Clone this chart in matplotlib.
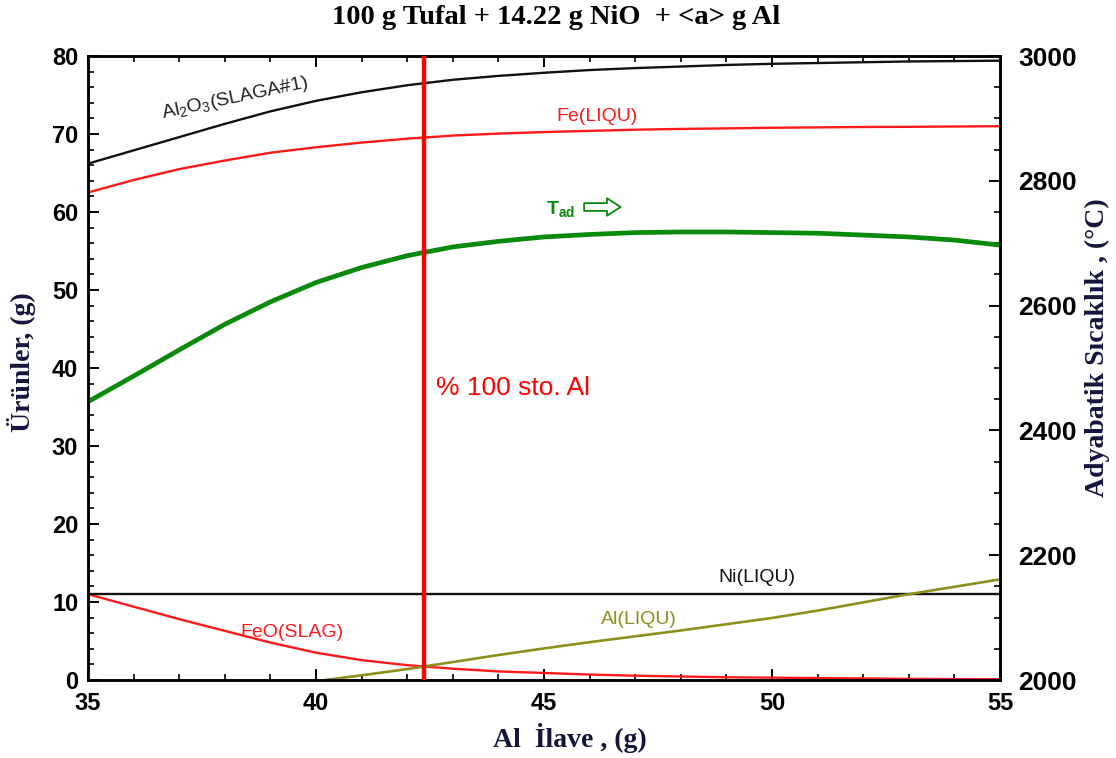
import matplotlib

matplotlib.use("Agg")

import matplotlib.pyplot as plt
from matplotlib.ticker import MultipleLocator

# Al addition (g) on the x axis
al_added = [35, 36, 37, 38, 39, 40, 41, 42, 43, 44, 45,
            46, 47, 48, 49, 50, 51, 52, 53, 54, 55]

# products (g), left axis
al2o3_slag = [66.2, 67.9, 69.6, 71.3, 72.9, 74.25, 75.35, 76.25, 76.95, 77.45, 77.85,
              78.2, 78.45, 78.65, 78.85, 79.0, 79.1, 79.2, 79.3, 79.35, 79.4]
fe_liqu = [62.5, 64.1, 65.5, 66.6, 67.6, 68.3, 68.9, 69.4, 69.8, 70.05, 70.25,
           70.4, 70.55, 70.65, 70.72, 70.8, 70.85, 70.9, 70.92, 70.96, 71.0]
feo_slag = [11.0, 9.4, 7.8, 6.3, 4.8, 3.5, 2.55, 1.9, 1.45, 1.1, 0.9,
            0.7, 0.55, 0.45, 0.35, 0.3, 0.25, 0.2, 0.15, 0.12, 0.1]

ni_x = [35, 55]
ni_liqu = [11.0, 11.0]

al_liqu_x = [40.2, 41, 42, 43, 44, 45, 46, 47, 48, 49, 50, 51, 52, 53, 54, 55]
al_liqu = [0.0, 0.6, 1.4, 2.3, 3.2, 4.05, 4.85, 5.6, 6.35, 7.15, 7.95,
           8.9, 9.95, 11.0, 11.95, 12.9]

# adiabatic temperature (C), right axis
t_ad = [2446, 2487, 2529, 2570, 2606, 2637, 2661, 2680, 2694, 2703, 2710,
        2714, 2717, 2718, 2718, 2717, 2716, 2713, 2710, 2705, 2697]

stoich_al = 42.37

plt.rcParams["font.family"] = ["Liberation Sans", "DejaVu Sans"]
plt.rcParams["mathtext.fontset"] = "custom"
plt.rcParams["mathtext.rm"] = "Liberation Sans"
plt.rcParams["mathtext.it"] = "Liberation Sans:italic"
plt.rcParams["mathtext.bf"] = "Liberation Sans:bold"

SERIF = ["Liberation Serif", "DejaVu Serif"]
LABEL_COLOR = "#14143c"
RED = "#ff1a1a"
GREEN = "#0a8a0a"
OLIVE = "#8f8f1c"

W, H = 1116, 758
fig = plt.figure(figsize=(W / 100, H / 100), dpi=100)
fig.patch.set_facecolor("white")

ax = fig.add_axes([88 / W, 78 / H, 912 / W, 624 / H])
ax2 = ax.twinx()

ax.plot(al_added, al2o3_slag, color="#111111", lw=1.7)
ax.plot(al_added, fe_liqu, color=RED, lw=1.7)
ax.plot(al_added, feo_slag, color=RED, lw=1.7)
ax.plot(ni_x, ni_liqu, color="#111111", lw=1.7)
ax.plot(al_liqu_x, al_liqu, color=OLIVE, lw=1.9)

ax2.plot(al_added, t_ad, color=GREEN, lw=3.4, solid_capstyle="butt")
ax2.axvline(stoich_al, color="#ff0000", lw=3.2, zorder=5)

ax.set_xlim(35, 55)
ax.set_ylim(0, 80)
ax2.set_ylim(2000, 3000)

ax.xaxis.set_major_locator(MultipleLocator(5))
ax.xaxis.set_minor_locator(MultipleLocator(1))
ax.yaxis.set_major_locator(MultipleLocator(10))
ax.yaxis.set_minor_locator(MultipleLocator(2))
ax2.yaxis.set_major_locator(MultipleLocator(200))
ax2.yaxis.set_minor_locator(MultipleLocator(50))

ax.tick_params(axis="x", which="both", direction="in", top=True, pad=9)
ax.tick_params(axis="y", which="both", direction="in", pad=7)
ax.tick_params(which="major", length=8, width=1.4, labelsize=17)
ax.tick_params(which="minor", length=4.5, width=1.2)
ax2.tick_params(axis="y", which="both", direction="in", pad=13)
ax2.tick_params(which="major", length=8, width=1.4, labelsize=19)
ax2.tick_params(which="minor", length=4.5, width=1.2)

for a in (ax, ax2):
    for lab in a.get_xticklabels() + a.get_yticklabels():
        lab.set_fontweight("bold")
    for sp in a.spines.values():
        sp.set_linewidth(1.8)

# curve labels
ax.text(38.22, 74.6, r"Al$_2$O$_3$(SLAGA#1)", rotation=12, fontsize=14,
        color="#222222", ha="center", va="center")
ax.text(46.16, 72.3, "Fe(LIQU)", fontsize=14, color=RED, ha="center", va="center")
ax.text(49.67, 13.2, "Ni(LIQU)", fontsize=14, color="#111111", ha="center", va="center")
ax.text(39.47, 6.15, "FeO(SLAG)", fontsize=14, color=RED, ha="center", va="center")
ax.text(47.08, 7.7, "Al(LIQU)", fontsize=14, color=OLIVE, ha="center", va="center")
ax.text(45.37, 60.4, r"$\mathbf{T_{ad}}$", fontsize=14, color=GREEN,
        ha="center", va="center")
ax.annotate("", xy=(0.584, 0.758), xytext=(0.544, 0.758), xycoords="axes fraction",
            arrowprops=dict(arrowstyle="simple,head_length=0.7,head_width=0.9,tail_width=0.4",
                            fc="white", ec=GREEN, lw=1.3, mutation_scale=14,
                            shrinkA=0, shrinkB=0))
ax2.text(stoich_al + 0.27, 2000 + 37.4 * 12.5, "% 100 sto. Al", fontsize=19,
         color="#ff0000", ha="left", va="center", zorder=6)

# titles and axis names
fig.text(556 / W, 1 - 18 / H, "100 g Tufal + 14.22 g NiO  + <a> g Al",
         family=SERIF, fontweight="bold", fontsize=20.5, ha="center", va="center")
fig.text(570 / W, 1 - 738 / H, "Al  İlave , (g)", family=SERIF, fontweight="bold",
         fontsize=20, ha="center", va="center", color=LABEL_COLOR)
fig.text(22 / W, 1 - 362 / H, "Ürünler, (g)", family=SERIF, fontweight="bold",
         fontsize=20, rotation=90, ha="center", va="center", color=LABEL_COLOR)
fig.text(1097 / W, 1 - 348 / H, "Adyabatik Sıcaklık , (°C)", family=SERIF,
         fontweight="bold", fontsize=20, rotation=90, ha="center", va="center",
         color=LABEL_COLOR)

fig.savefig("out.png", dpi=100, facecolor="white")
